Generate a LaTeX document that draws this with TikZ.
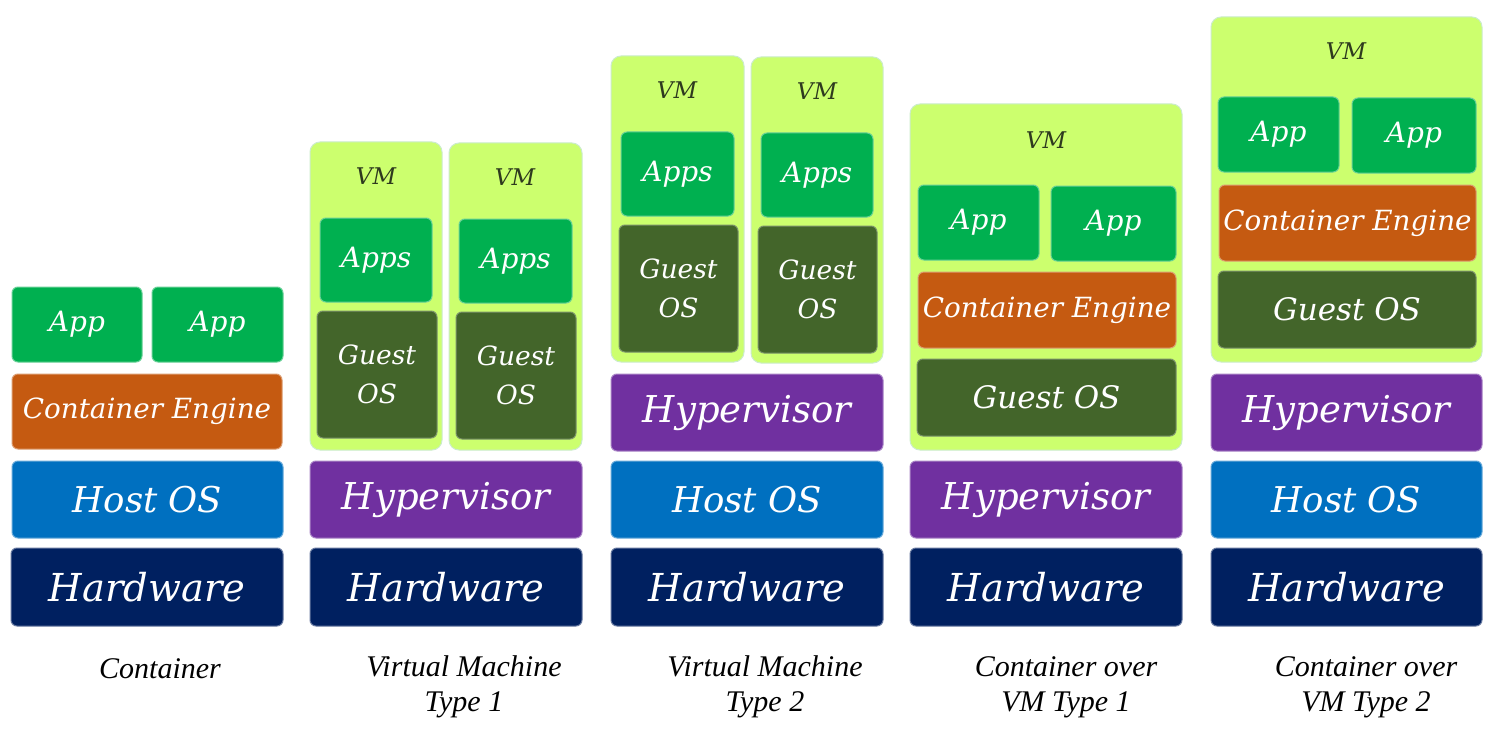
\documentclass[tikz,border=0pt]{standalone}
\usepackage{fontspec}
\setmainfont{DejaVu Serif}
\newfontfamily\capfont{Liberation Serif}
\definecolor{appg}{HTML}{00B050}
\definecolor{engc}{HTML}{C55A11}
\definecolor{hostc}{HTML}{0070C0}
\definecolor{hwc}{HTML}{002060}
\definecolor{hypc}{HTML}{7030A0}
\definecolor{vmc}{HTML}{CCFF6E}
\definecolor{gosc}{HTML}{43652A}
\definecolor{vmtxt}{HTML}{2E3A1E}
\newcommand\bx[7]{%
  \pgfmathsetmacro\bw{#5-#3}\pgfmathsetmacro\bh{#6-#4}%
  \node[#2, minimum width=\bw pt, minimum height=\bh pt] (#1) at ({(#3+#5)/2},{(#4+#6)/2}) {#7};}
\tikzset{
  layer/.style={rounded corners=6pt, inner sep=0pt, outer sep=0pt, line width=1pt,
     text=white, align=center, font=\itshape},
  app/.style={layer, fill=appg, draw=appg!60!white, font=\itshape\fontsize{28}{32}\selectfont},
  eng/.style={layer, fill=engc, draw=engc!60!white, font=\itshape\fontsize{27.8}{30}\selectfont},
  host/.style={layer, fill=hostc, draw=hostc!60!white, font=\itshape\fontsize{35.5}{40}\selectfont},
  hw/.style={layer, fill=hwc, draw=hwc!60!white, font=\itshape\fontsize{38.5}{40}\selectfont},
  hyp/.style={layer, fill=hypc, draw=hypc!60!white, font=\itshape\fontsize{37}{40}\selectfont},
  vm/.style={layer, rounded corners=10pt, fill=vmc, draw=green!15!white!85!gray},
  gos/.style={layer, fill=gosc, draw=gosc!70!white, font=\itshape\fontsize{26.5}{39}\selectfont},
  gosbig/.style={gos, font=\itshape\fontsize{31}{36}\selectfont},
  vmlab/.style={text=vmtxt, font=\itshape\fontsize{23}{24}\selectfont, inner sep=0pt},
  captxt/.style={align=center, font=\capfont\itshape\fontsize{30}{35}\selectfont, inner sep=0pt}
}
\begin{document}
\begin{tikzpicture}[x=1pt,y=-1pt]
\useasboundingbox[fill=white] (0,0) rectangle (1499,733);
% ---------- Column 1: Container
\bx{c1a1}{app}{12}{287}{142}{362}{App}
\bx{c1a2}{app}{152}{287}{283}{362}{App}
\bx{c1eng}{eng}{12}{374}{282}{449}{Container Engine}
\bx{c1host}{host}{12}{461}{283}{538}{Host OS}
\bx{c1hw}{hw}{11}{548}{283}{626}{Hardware}
\node[captxt] (cap1) at (160,669) {Container};
% ---------- Column 2: VM Type 1
\bx{c2vm1}{vm}{310}{142}{442}{450}{}
\bx{c2vm2}{vm}{449}{143}{582}{450}{}
\node[vmlab] (c2l1) at (376,176) {VM};
\node[vmlab] (c2l2) at (515,177) {VM};
\bx{c2ap1}{app}{320}{218}{432}{302}{Apps}
\bx{c2ap2}{app}{459}{219}{572}{303}{Apps}
\bx{c2g1}{gos}{317}{311}{437}{438}{Guest\\OS}
\bx{c2g2}{gos}{456}{312}{576}{439}{Guest\\OS}
\bx{c2hyp}{hyp}{310}{461}{582}{538}{Hypervisor}
\bx{c2hw}{hw}{310}{548}{582}{626}{Hardware}
\node[captxt] (cap2) at (464,687) {Virtual Machine\\Type 1};
% ---------- Column 3: VM Type 2
\bx{c3vm1}{vm}{611}{56}{744}{362}{}
\bx{c3vm2}{vm}{751}{57}{883}{363}{}
\node[vmlab] (c3l1) at (677,90) {VM};
\node[vmlab] (c3l2) at (817,91) {VM};
\bx{c3ap1}{app}{621}{132}{734}{216}{Apps}
\bx{c3ap2}{app}{761}{133}{873}{217}{Apps}
\bx{c3g1}{gos}{619}{225}{738}{352}{Guest\\OS}
\bx{c3g2}{gos}{758}{226}{877}{353}{Guest\\OS}
\bx{c3hyp}{hyp}{611}{374}{883}{451}{Hypervisor}
\bx{c3host}{host}{611}{461}{883}{538}{Host OS}
\bx{c3hw}{hw}{611}{548}{883}{626}{Hardware}
\node[captxt] (cap3) at (765,687) {Virtual Machine\\Type 2};
% ---------- Column 4: Container over VM Type 1
\bx{c4vm}{vm}{910}{104}{1182}{450}{}
\node[vmlab] (c4l) at (1046,140) {VM};
\bx{c4a1}{app}{918}{185}{1039}{260}{App}
\bx{c4a2}{app}{1051}{186}{1176}{261}{App}
\bx{c4eng}{eng}{918}{272}{1176}{348}{Container Engine}
\bx{c4g}{gosbig}{917}{359}{1176}{436}{Guest OS}
\bx{c4hyp}{hyp}{910}{461}{1182}{538}{Hypervisor}
\bx{c4hw}{hw}{910}{548}{1182}{626}{Hardware}
\node[captxt] (cap4) at (1066,687) {Container over\\VM Type 1};
% ---------- Column 5: Container over VM Type 2
\bx{c5vm}{vm}{1211}{17}{1482}{362}{}
\node[vmlab] (c5l) at (1346,51) {VM};
\bx{c5a1}{app}{1218}{97}{1339}{172}{App}
\bx{c5a2}{app}{1352}{98}{1476}{173}{App}
\bx{c5eng}{eng}{1219}{185}{1476}{261}{Container Engine}
\bx{c5g}{gosbig}{1218}{271}{1476}{348}{Guest OS}
\bx{c5hyp}{hyp}{1211}{374}{1482}{451}{Hypervisor}
\bx{c5host}{host}{1211}{461}{1482}{538}{Host OS}
\bx{c5hw}{hw}{1211}{548}{1482}{626}{Hardware}
\node[captxt] (cap5) at (1366,687) {Container over\\VM Type 2};
\end{tikzpicture}
\end{document}
